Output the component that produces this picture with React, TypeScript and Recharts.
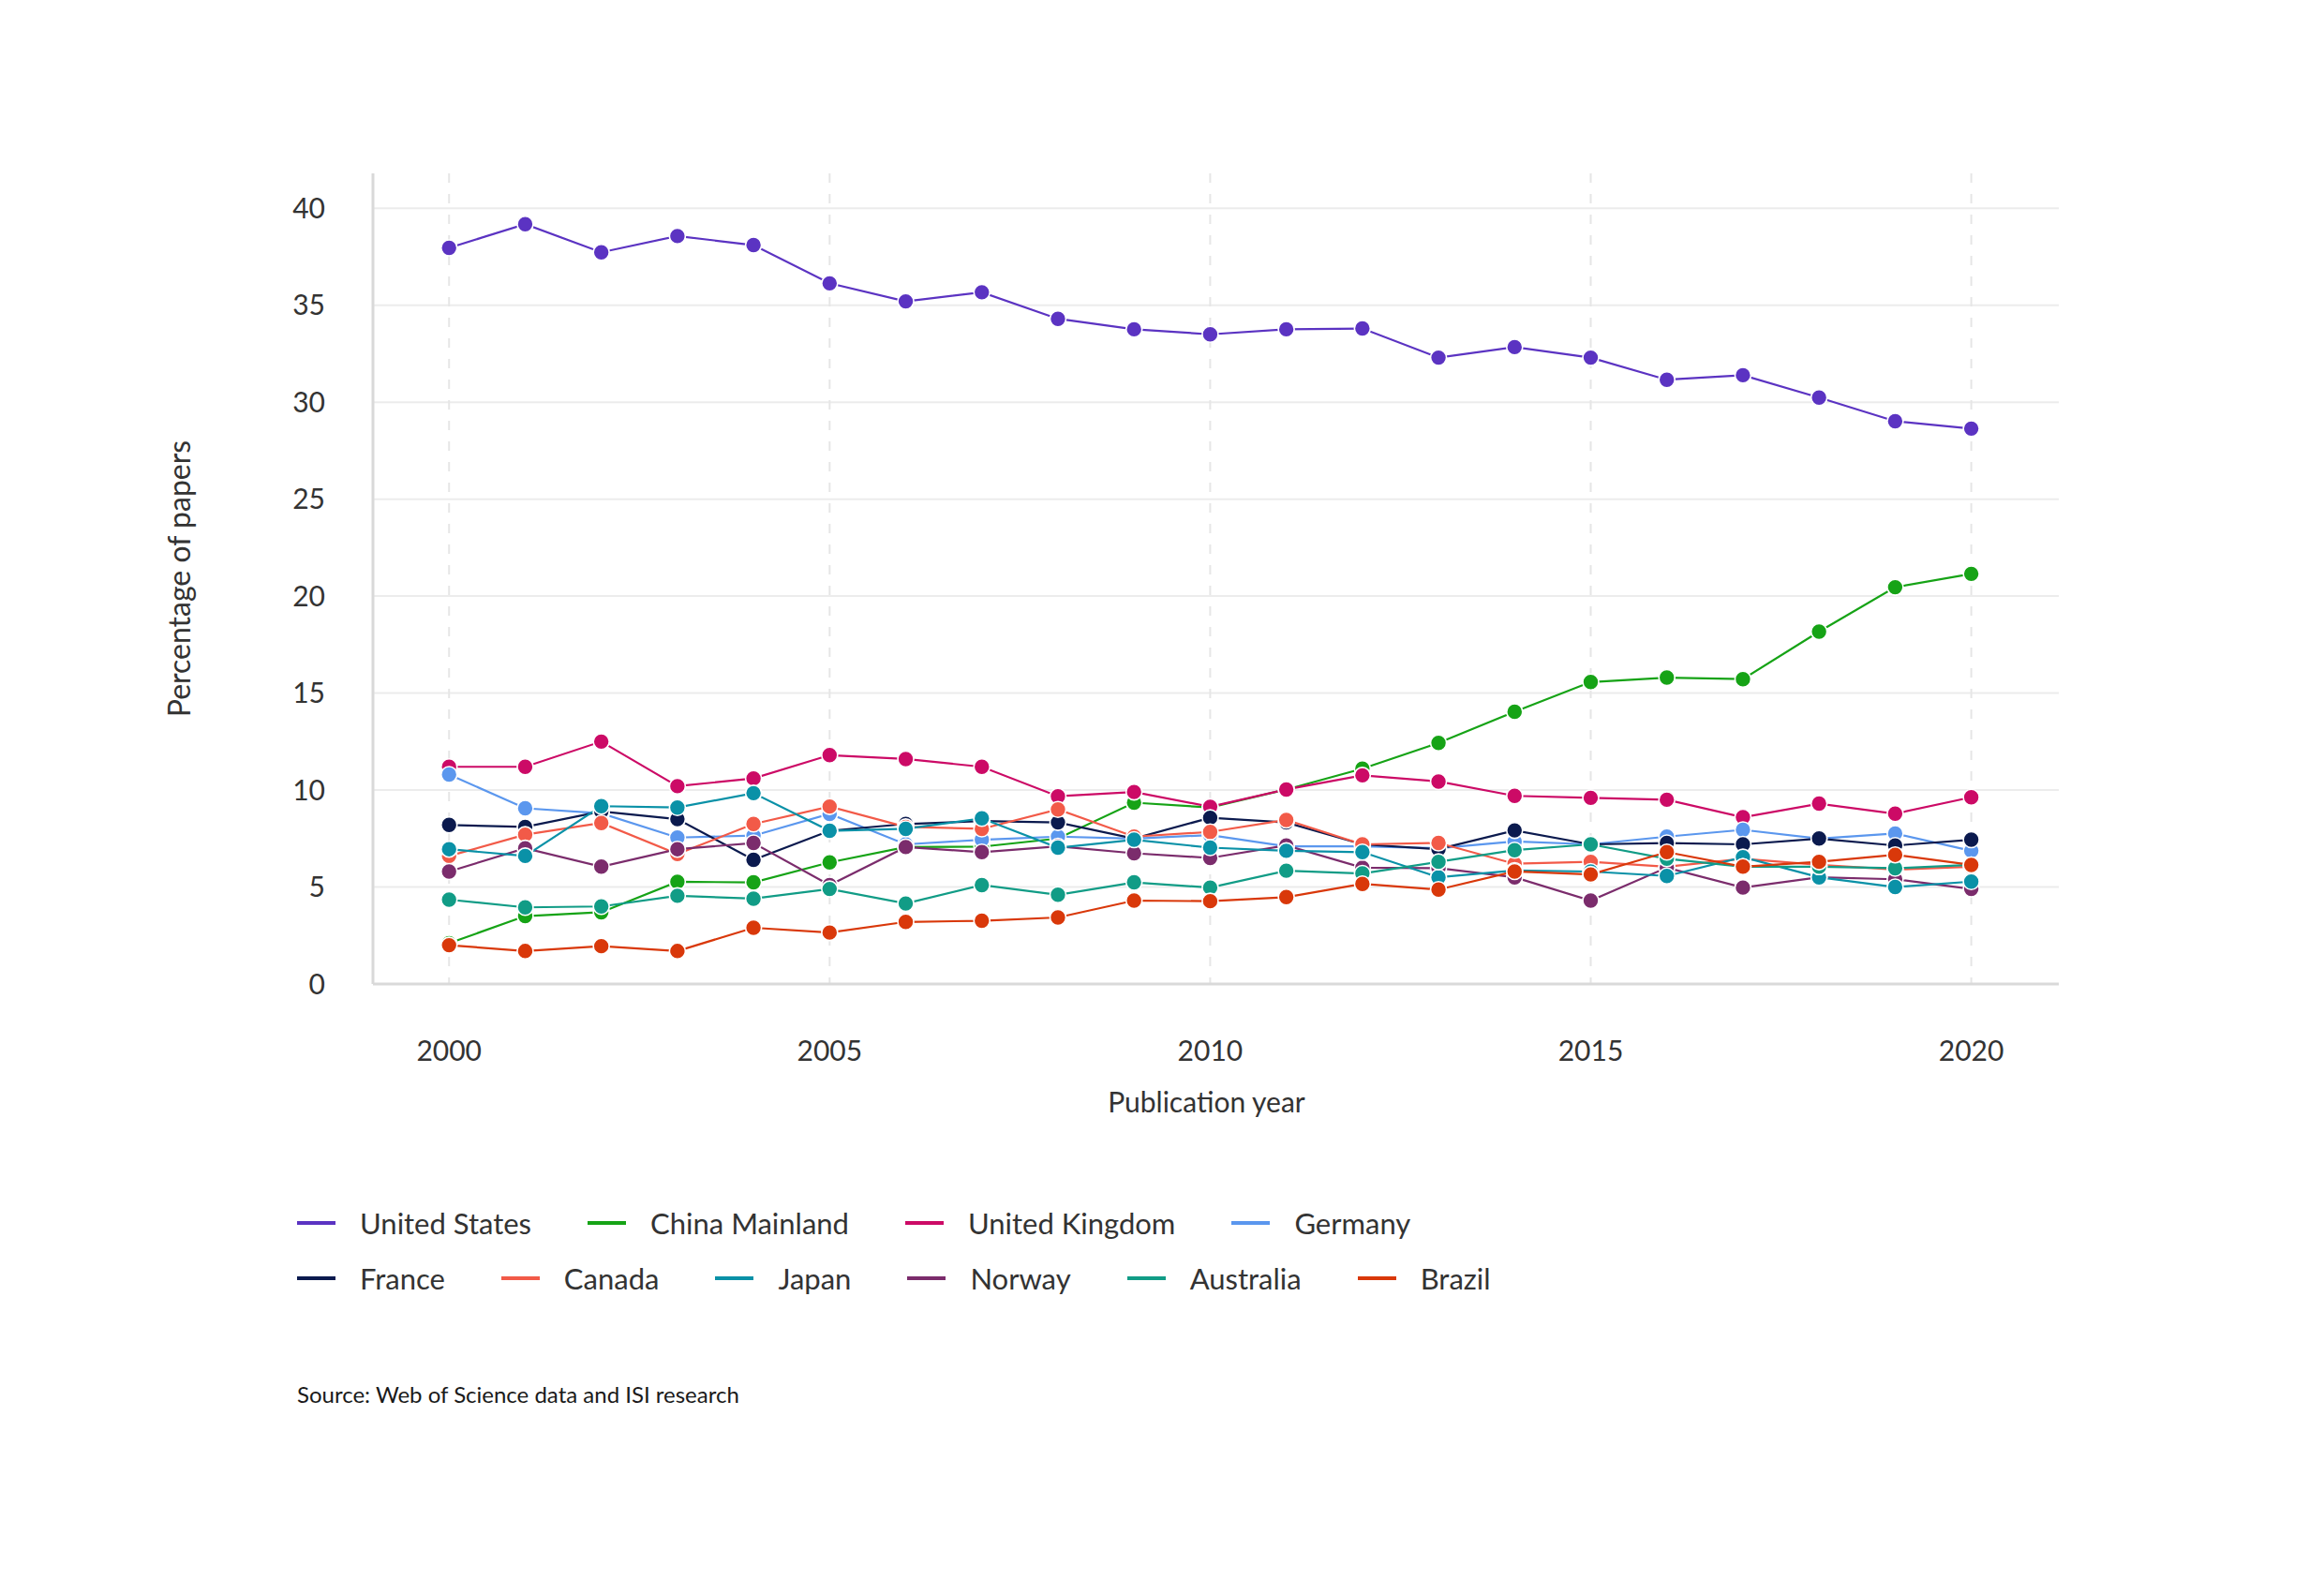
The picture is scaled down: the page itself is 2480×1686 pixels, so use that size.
import { LineChart, Line, XAxis, YAxis, CartesianGrid, Legend } from "recharts";

const YEARS = [
  2000, 2001, 2002, 2003, 2004, 2005, 2006, 2007, 2008, 2009, 2010,
  2011, 2012, 2013, 2014, 2015, 2016, 2017, 2018, 2019, 2020,
];

const UNITED_STATES = [37.96, 39.18, 37.73, 38.57, 38.1, 36.13, 35.2, 35.67, 34.3, 33.76, 33.5, 33.76, 33.8, 32.3, 32.84, 32.3, 31.16, 31.39, 30.24, 29.02, 28.64];
const CHINA = [2.1, 3.5, 3.7, 5.27, 5.24, 6.27, 7.06, 7.08, 7.5, 9.35, 9.1, 10.03, 11.1, 12.43, 14.04, 15.57, 15.8, 15.72, 18.17, 20.46, 21.15];
const UK = [11.2, 11.2, 12.5, 10.2, 10.6, 11.8, 11.6, 11.2, 9.68, 9.9, 9.14, 10.03, 10.76, 10.44, 9.7, 9.6, 9.5, 8.6, 9.3, 8.78, 9.63];
const GERMANY = [10.8, 9.06, 8.8, 7.55, 7.65, 8.77, 7.2, 7.44, 7.6, 7.5, 7.68, 7.1, 7.1, 7.0, 7.35, 7.2, 7.6, 7.95, 7.5, 7.76, 6.87];
const FRANCE = [8.2, 8.1, 8.9, 8.5, 6.4, 7.9, 8.25, 8.4, 8.33, 7.5, 8.57, 8.33, 7.2, 6.95, 7.92, 7.2, 7.27, 7.2, 7.5, 7.14, 7.44];
const CANADA = [6.6, 7.7, 8.3, 6.7, 8.25, 9.15, 8.1, 8.0, 9.0, 7.6, 7.84, 8.46, 7.2, 7.27, 6.2, 6.3, 6.05, 6.46, 6.14, 5.9, 6.05];
const JAPAN = [6.95, 6.6, 9.17, 9.1, 9.84, 7.9, 8.0, 8.54, 7.03, 7.44, 7.03, 6.87, 6.8, 5.5, 5.85, 5.8, 5.57, 6.54, 5.5, 5.0, 5.28];
const NORWAY = [5.8, 7.0, 6.05, 6.95, 7.27, 5.1, 7.06, 6.8, 7.1, 6.74, 6.5, 7.14, 6.0, 5.97, 5.5, 4.3, 6.0, 4.97, 5.5, 5.4, 4.9];
const AUSTRALIA = [4.35, 3.95, 4.0, 4.55, 4.4, 4.9, 4.15, 5.1, 4.6, 5.24, 4.97, 5.84, 5.7, 6.3, 6.9, 7.2, 6.46, 6.05, 6.05, 5.97, 6.14];
const BRAZIL = [2.0, 1.7, 1.95, 1.7, 2.9, 2.65, 3.2, 3.26, 3.43, 4.3, 4.27, 4.48, 5.16, 4.87, 5.8, 5.65, 6.8, 6.05, 6.3, 6.66, 6.14];

const X_TICKS = [2000, 2005, 2010, 2015, 2020];
const Y_TICKS = [0, 5, 10, 15, 20, 25, 30, 35, 40];

// legend order
const SERIES = [
  { key: "us", name: "United States", color: "#5b33c2", values: UNITED_STATES },
  { key: "cn", name: "China Mainland", color: "#16a316", values: CHINA },
  { key: "uk", name: "United Kingdom", color: "#cc0a66", values: UK },
  { key: "de", name: "Germany", color: "#5b97ee", values: GERMANY },
  { key: "fr", name: "France", color: "#0b1a4e", values: FRANCE },
  { key: "ca", name: "Canada", color: "#f25a48", values: CANADA },
  { key: "jp", name: "Japan", color: "#0a91a7", values: JAPAN },
  { key: "no", name: "Norway", color: "#7b2c6c", values: NORWAY },
  { key: "au", name: "Australia", color: "#119c86", values: AUSTRALIA },
  { key: "br", name: "Brazil", color: "#d9380a", values: BRAZIL },
];

// drawing order (later on top)
const DRAW_ORDER = ["us", "cn", "uk", "de", "fr", "ca", "no", "jp", "au", "br"];

const data = YEARS.map((year, i) => {
  const row: Record<string, number> = { year };
  SERIES.forEach((s) => (row[s.key] = s.values[i]));
  return row;
});

const FONT = "Lato, 'Open Sans', sans-serif";
const TEXT = "#333333";
const GRID = "#ececec";
const AXIS = "#d9d9d9";

function LegendContent() {
  const rows = [SERIES.slice(0, 4), SERIES.slice(4)];
  return (
    <div style={{ fontFamily: FONT, fontSize: 31, color: TEXT }}>
      {rows.map((row, ri) => (
        <div key={ri} style={{ display: "flex", alignItems: "center", height: 59 }}>
          {row.map((s) => (
            <div key={s.key} style={{ display: "flex", alignItems: "center", marginRight: 60 }}>
              <div style={{ width: 41, height: 4, background: s.color, marginRight: 26 }} />
              <span>{s.name}</span>
            </div>
          ))}
        </div>
      ))}
    </div>
  );
}

function YLabel(props: any) {
  const { viewBox } = props;
  const x = viewBox.x + viewBox.width / 2 - 9;
  const y = viewBox.y + viewBox.height / 2;
  return (
    <text
      x={x}
      y={y}
      transform={`rotate(-90, ${x}, ${y})`}
      textAnchor="middle"
      dominantBaseline="central"
      fontFamily={FONT}
      fontSize={32}
      fill={TEXT}
    >
      Percentage of papers
    </text>
  );
}

function XLabel(props: any) {
  const { viewBox } = props;
  const x = viewBox.x + viewBox.width / 2 - 10;
  const y = viewBox.y + 125;
  return (
    <text x={x} y={y} textAnchor="middle" dominantBaseline="central" fontFamily={FONT} fontSize={30} fill={TEXT}>
      Publication year
    </text>
  );
}

export default function App() {
  const tick = { fill: TEXT, fontSize: 30, fontFamily: FONT };
  return (
    <div style={{ position: "absolute", left: 0, top: 0, width: 2480, height: 1686, background: "#fff" }}>
      <LineChart
        width={2480}
        height={1686}
        data={data}
        margin={{ top: 185, right: 283, bottom: 386, left: 0 }}
      >
        <CartesianGrid vertical={false} syncWithTicks stroke={GRID} strokeWidth={2} />
        <CartesianGrid horizontal={false} syncWithTicks stroke="#e6e6e6" strokeWidth={2} strokeDasharray="10 12" />
        <XAxis
          dataKey="year"
          type="number"
          domain={[1999, 2021.15]}
          ticks={X_TICKS}
          tickLine={false}
          tickSize={0}
          tickMargin={61}
          height={250}
          axisLine={{ stroke: AXIS, strokeWidth: 3 }}
          tick={tick}
          label={<XLabel />}
        />
        <YAxis
          type="number"
          domain={[0, 41.8]}
          ticks={Y_TICKS}
          tickLine={false}
          tickSize={0}
          tickMargin={51}
          width={398}
          axisLine={{ stroke: AXIS, strokeWidth: 3 }}
          tick={tick}
          label={<YLabel />}
        />
        <Legend
          layout="horizontal"
          verticalAlign="middle"
          align="center"
          content={<LegendContent />}
          wrapperStyle={{ left: 317, top: 1275, width: 1700 }}
        />
        {DRAW_ORDER.map((k) => {
          const s = SERIES.find((x) => x.key === k)!;
          return (
            <Line
              key={s.key}
              type="linear"
              dataKey={s.key}
              name={s.name}
              stroke={s.color}
              strokeWidth={2.2}
              dot={{ r: 8.5, fill: s.color, stroke: "#ffffff", strokeWidth: 1.6 }}
              activeDot={false}
              isAnimationActive={false}
            />
          );
        })}
      </LineChart>
      <div
        style={{
          position: "absolute",
          left: 317,
          top: 1473,
          fontFamily: FONT,
          fontSize: 24,
          color: "#1a1a1a",
        }}
      >
        Source: Web of Science data and ISI research
      </div>
    </div>
  );
}
